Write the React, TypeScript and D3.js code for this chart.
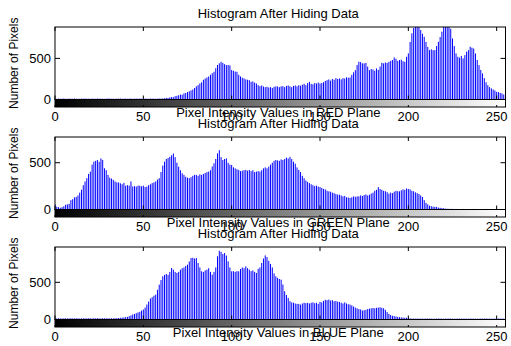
import React from "react";
import * as d3 from "d3";

const intensities: number[] = d3.range(256);
const xTicks = [0, 50, 100, 150, 200, 250];
const yTicks = [0, 500];
const planeNames = ["RED", "GREEN", "BLUE"];
const yMaxes = [882, 775, 975];

const redCounts = [
  10, 8, 11, 9, 10, 12, 8, 9, 11, 10, 9, 12, 10, 8, 9, 11, 10, 12, 9, 10,
  8, 11, 10, 9, 12, 10, 11, 9, 8, 10, 12, 11, 9, 10, 8, 11, 10, 12, 9, 10,
  11, 9, 10, 12, 8, 10, 11, 9, 12, 10, 9, 11, 10, 8, 12, 10, 11, 9, 10, 12,
  11, 13, 15, 20, 18, 25, 30, 28, 40, 45, 52, 60, 58, 75, 80, 90, 100, 110, 122, 140,
  160, 175, 195, 210, 240, 255, 268, 280, 300, 320, 337, 380, 420, 440, 459, 445, 430, 418, 420, 415,
  360, 349, 340, 337, 300, 280, 265, 256, 245, 240, 235, 215, 220, 205, 195, 175, 162, 170, 158, 150,
  155, 146, 150, 140, 155, 160, 158, 150, 160, 162, 150, 165, 170, 160, 150, 165, 170, 160, 174, 168,
  180, 190, 175, 200, 215, 190, 185, 200, 195, 205, 195, 200, 210, 225, 235, 244, 230, 250, 240, 260,
  250, 256, 245, 260, 255, 270, 265, 268, 300, 330, 357, 420, 459, 455, 440, 439, 445, 400, 357, 370,
  365, 350, 378, 360, 400, 447, 440, 450, 445, 459, 470, 480, 512, 495, 470, 480, 485, 465, 459, 520,
  561, 700, 805, 870, 930, 900, 950, 845, 800, 763, 700, 640, 601, 610, 600, 601, 650, 702, 760, 825,
  920, 960, 900, 940, 860, 743, 650, 560, 520, 510, 530, 500, 540, 581, 600, 642, 630, 620, 560, 480,
  418, 360, 317, 260, 210, 174, 150, 135, 122, 110, 93, 90, 80, 73, 60, 357,
];

const greenCounts = [
  55, 30, 25, 18, 25, 35, 50, 55, 60, 100, 110, 130, 134, 150, 180, 211, 260, 300, 335, 380,
  405, 480, 511, 520, 529, 510, 546, 530, 441, 420, 370, 340, 330, 317, 300, 290, 289, 280, 270, 285,
  254, 260, 255, 300, 246, 250, 245, 255, 254, 248, 255, 240, 245, 260, 270, 282, 290, 300, 320, 335,
  400, 470, 511, 540, 550, 563, 580, 599, 560, 500, 458, 420, 388, 370, 350, 340, 335, 345, 360, 370,
  370, 360, 375, 370, 380, 390, 400, 405, 420, 460, 494, 540, 600, 634, 560, 529, 540, 546, 500, 480,
  476, 450, 440, 430, 423, 410, 415, 420, 423, 415, 423, 410, 420, 400, 405, 410, 405, 420, 440, 450,
  440, 458, 480, 500, 520, 529, 525, 520, 535, 529, 540, 555, 545, 563, 540, 511, 490, 450, 423, 400,
  360, 335, 310, 295, 282, 270, 260, 250, 255, 245, 240, 230, 220, 215, 200, 194, 190, 180, 175, 165,
  160, 158, 150, 140, 145, 130, 128, 123, 130, 140, 135, 140, 141, 150, 145, 155, 160, 150, 158, 170,
  180, 200, 210, 240, 219, 210, 200, 195, 185, 169, 180, 175, 190, 200, 195, 194, 205, 215, 210, 225,
  219, 215, 200, 195, 183, 175, 165, 150, 134, 100, 70, 55, 40, 35, 30, 28, 28, 20, 18, 15,
  14, 9, 8, 7, 6, 7, 5, 6, 5, 4, 5, 6, 5, 4, 5, 4, 5, 6, 4, 5,
  4, 5, 4, 5, 6, 4, 5, 4, 5, 4, 5, 4, 5, 4, 5, 6,
];

const blueCounts = [
  15, 14, 16, 15, 13, 15, 16, 14, 15, 17, 15, 14, 16, 15, 13, 15, 16, 14, 15, 16,
  15, 14, 16, 15, 17, 15, 14, 16, 15, 16, 15, 14, 16, 15, 17, 18, 20, 22, 25, 28,
  31, 35, 45, 55, 67, 75, 85, 95, 103, 120, 134, 160, 201, 240, 282, 300, 320, 335, 400, 469,
  530, 581, 600, 612, 600, 640, 693, 670, 640, 626, 640, 670, 690, 700, 720, 737, 780, 827, 830, 820,
  827, 760, 700, 648, 640, 660, 670, 690, 640, 603, 640, 700, 850, 925, 910, 880, 894, 860, 782, 700,
  648, 650, 640, 650, 648, 680, 700, 690, 715, 690, 670, 650, 660, 640, 626, 680, 700, 760, 820, 862,
  840, 790, 747, 700, 620, 581, 560, 545, 536, 470, 380, 330, 290, 246, 230, 225, 215, 210, 210, 200,
  215, 225, 220, 224, 215, 225, 230, 220, 225, 210, 237, 230, 250, 265, 260, 268, 255, 260, 245, 250,
  240, 237, 225, 215, 230, 215, 205, 201, 190, 175, 160, 150, 140, 135, 121, 125, 130, 140, 145, 150,
  155, 150, 157, 160, 165, 157, 150, 130, 100, 76, 60, 50, 45, 40, 35, 31, 28, 25, 23, 23,
  20, 14, 12, 13, 11, 12, 13, 11, 12, 10, 12, 13, 11, 12, 10, 11, 12, 13, 11, 12,
  10, 12, 11, 13, 12, 11, 10, 12, 11, 13, 12, 11, 12, 10, 11, 12, 13, 11, 12, 10,
  11, 12, 11, 13, 12, 11, 12, 10, 11, 12, 11, 12, 13, 11, 12, 12,
];

const seriesList = [redCounts, greenCounts, blueCounts];

const FONT = "Arial, 'Liberation Sans', Helvetica, sans-serif";
const LEFT = 55;
const RIGHT = 505.5;
const PANEL_STEP = 110;
const TOP0 = 27;
const BOTTOM0 = 99.5;
const CBAR_H = 7.5;

function Panel({ index }: { index: number }) {
  const off = index * PANEL_STEP;
  const top = TOP0 + off;
  const bottom = BOTTOM0 + off;
  const counts = seriesList[index];
  const x = d3.scaleLinear().domain([0, 255]).range([LEFT, RIGHT]);
  const y = d3.scaleLinear().domain([0, yMaxes[index]]).range([bottom, top]);
  const clipId = `clip-${index}`;
  const gradId = `grad-${index}`;
  const cx = (LEFT + RIGHT) / 2 - 2;
  return (
    <g>
      <defs>
        <clipPath id={clipId}>
          <rect x={LEFT} y={top} width={RIGHT - LEFT} height={bottom - top} />
        </clipPath>
        <linearGradient id={gradId} x1="0" x2="1" y1="0" y2="0">
          <stop offset="0" stopColor="#000" />
          <stop offset="1" stopColor="#fff" />
        </linearGradient>
      </defs>
      {/* title */}
      <text x={cx} y={top - 9} textAnchor="middle" fontSize={13} fontFamily={FONT} fill="#000">
        Histogram After Hiding Data
      </text>
      {/* bars */}
      <g clipPath={`url(#${clipId})`}>
        {intensities.map((i) => (
          <line
            key={i}
            x1={x(i)}
            x2={x(i)}
            y1={y(0)}
            y2={y(counts[i])}
            stroke="#0000ff"
            strokeWidth={1}
          />
        ))}
      </g>
      {/* axes box */}
      <rect x={LEFT} y={top} width={RIGHT - LEFT} height={bottom - top} fill="none" stroke="#000" strokeWidth={1} />
      {/* x ticks */}
      {xTicks.map((t) => (
        <g key={t}>
          <line x1={x(t)} x2={x(t)} y1={top} y2={top + 4} stroke="#000" />
          <line x1={x(t)} x2={x(t)} y1={bottom} y2={bottom - 4} stroke="#000" />
        </g>
      ))}
      {/* y ticks */}
      {yTicks.map((t) => (
        <g key={t}>
          <line x1={LEFT} x2={LEFT + 5} y1={y(t)} y2={y(t)} stroke="#000" />
          <line x1={RIGHT} x2={RIGHT - 5} y1={y(t)} y2={y(t)} stroke="#000" />
          <text x={51} y={y(t) + 4.5} textAnchor="end" fontSize={13} fontFamily={FONT} fill="#000">
            {t}
          </text>
        </g>
      ))}
      {/* colorbar */}
      <rect x={LEFT} y={bottom} width={RIGHT - LEFT} height={CBAR_H} fill={`url(#${gradId})`} stroke="#000" strokeWidth={1} />
      {xTicks.map((t) => (
        <line key={`c${t}`} x1={x(t)} x2={x(t)} y1={bottom + CBAR_H} y2={bottom + CBAR_H - 2} stroke="#000" />
      ))}
      {/* x tick labels */}
      {xTicks.map((t) => (
        <text key={`l${t}`} x={x(t)} y={bottom + 21} textAnchor="middle" fontSize={13} fontFamily={FONT} fill="#000">
          {t}
        </text>
      ))}
      {/* x label */}
      <text x={cx} y={bottom + 17} textAnchor="middle" fontSize={13} fontFamily={FONT} fill="#000">
        {`Pixel Intensity Values in ${planeNames[index]} Plane`}
      </text>
      {/* y label */}
      <text
        transform={`translate(18,${(top + bottom) / 2}) rotate(-90)`}
        textAnchor="middle"
        fontSize={12}
        fontFamily={FONT}
        fill="#000"
      >
        Number of Pixels
      </text>
    </g>
  );
}

export default function App() {
  return (
    <svg
      width={511}
      height={346}
      style={{ position: "absolute", left: 0, top: 0, background: "#fff" }}
    >
      <rect x={0} y={0} width={511} height={346} fill="#fff" />
      {[0, 1, 2].map((i) => (
        <Panel key={i} index={i} />
      ))}
    </svg>
  );
}
